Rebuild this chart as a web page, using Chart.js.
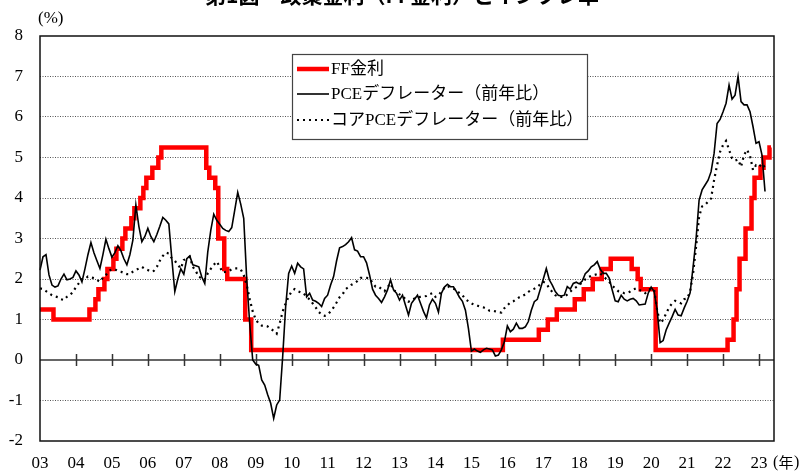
<!DOCTYPE html>
<html><head><meta charset="utf-8">
<script src="https://cdn.jsdelivr.net/npm/chart.js@4.4.1/dist/chart.umd.min.js"></script>
<style>html,body{margin:0;padding:0;background:#fff;overflow:hidden;}#wrap{width:807px;height:472px;position:relative;overflow:hidden;}canvas{display:block;}</style>
</head><body><div id="wrap"><canvas id="c" width="807" height="472"></canvas></div>
<script>
const titleText = '第1図　政策金利（FF金利）とインフレ率';
const unitLabel = '(%)';
const yearUnitParts = ['(', '年', ')'];
const seriesNames = ['FF金利', 'PCEデフレーター（前年比）', 'コアPCEデフレーター（前年比）'];
const yearLabels = ['03','04','05','06','07','08','09','10','11','12','13','14','15','16','17','18','19','20','21','22','23'];
const startYear = 2003;
const monthCount = 246; // Jan 2003 - Jun 2023
const months = [];
for (let i = 0; i < monthCount; i++) {
  months.push((startYear + Math.floor(i / 12)) + '-' + String(i % 12 + 1).padStart(2, '0'));
}

// FF rate (target, upper bound), monthly from Jan 2003
const ffRate = [
  1.25,1.25,1.25,1.25,1.25,1,1,1,1,1,1,1,
  1,1,1,1,1,1.25,1.25,1.5,1.75,1.75,2,2.25,
  2.25,2.5,2.75,2.75,3,3.25,3.25,3.5,3.75,3.75,4,4.25,
  4.5,4.5,4.75,4.75,5,5.25,5.25,5.25,5.25,5.25,5.25,5.25,
  5.25,5.25,5.25,5.25,5.25,5.25,5.25,5.25,4.75,4.5,4.5,4.25,
  3,3,2.25,2,2,2,2,2,2,1,1,0.25,
  0.25,0.25,0.25,0.25,0.25,0.25,0.25,0.25,0.25,0.25,0.25,0.25,
  0.25,0.25,0.25,0.25,0.25,0.25,0.25,0.25,0.25,0.25,0.25,0.25,
  0.25,0.25,0.25,0.25,0.25,0.25,0.25,0.25,0.25,0.25,0.25,0.25,
  0.25,0.25,0.25,0.25,0.25,0.25,0.25,0.25,0.25,0.25,0.25,0.25,
  0.25,0.25,0.25,0.25,0.25,0.25,0.25,0.25,0.25,0.25,0.25,0.25,
  0.25,0.25,0.25,0.25,0.25,0.25,0.25,0.25,0.25,0.25,0.25,0.25,
  0.25,0.25,0.25,0.25,0.25,0.25,0.25,0.25,0.25,0.25,0.25,0.5,
  0.5,0.5,0.5,0.5,0.5,0.5,0.5,0.5,0.5,0.5,0.5,0.75,
  0.75,0.75,1,1,1,1.25,1.25,1.25,1.25,1.25,1.25,1.5,
  1.5,1.5,1.75,1.75,1.75,2,2,2,2.25,2.25,2.25,2.5,
  2.5,2.5,2.5,2.5,2.5,2.5,2.25,2.25,2,1.75,1.75,1.75,
  1.75,1.75,0.25,0.25,0.25,0.25,0.25,0.25,0.25,0.25,0.25,0.25,
  0.25,0.25,0.25,0.25,0.25,0.25,0.25,0.25,0.25,0.25,0.25,0.25,
  0.25,0.25,0.5,0.5,1,1.75,2.5,2.5,3.25,3.25,4,4.5,
  4.5,4.75,5,5,5.25
];

// PCE deflator, YoY %, monthly from Jan 2003
const pceDeflator = [
  2.22,2.55,2.6,2.1,1.85,1.8,1.83,2.0,2.12,1.98,2.0,2.04,
  2.2,2.1,1.93,2.25,2.6,2.9,2.65,2.45,2.26,2.6,2.98,2.75,
  2.54,2.65,2.82,2.7,2.5,2.35,2.6,2.96,3.83,3.3,2.92,3.05,
  3.25,3.05,2.92,3.1,3.3,3.52,3.45,3.36,2.5,1.69,2.0,2.25,
  2.12,2.5,2.57,2.35,2.33,2.3,2.05,1.89,2.67,3.2,3.6,3.45,
  3.35,3.25,3.2,3.17,3.27,3.7,4.14,3.85,3.5,2.0,0.9,0.0,
  -0.1,-0.13,-0.49,-0.62,-0.86,-1.07,-1.44,-1.11,-0.99,0.08,1.32,2.14,
  2.32,2.14,2.39,2.3,2.25,1.56,1.65,1.48,1.45,1.4,1.32,1.52,
  1.6,1.85,2.06,2.45,2.77,2.8,2.85,2.92,3.02,2.72,2.69,2.55,
  2.55,2.4,2.1,1.75,1.6,1.52,1.42,1.56,1.73,1.98,1.73,1.65,
  1.48,1.6,1.35,1.11,1.4,1.5,1.6,1.4,1.2,1.04,1.36,1.5,
  1.4,1.18,1.65,1.8,1.87,1.81,1.81,1.69,1.55,1.45,1.23,0.78,
  0.22,0.27,0.22,0.19,0.25,0.29,0.27,0.25,0.1,0.12,0.25,0.45,
  0.84,0.7,0.76,0.91,0.78,0.78,0.82,0.95,1.23,1.44,1.5,1.75,
  2.0,2.26,1.98,1.85,1.69,1.6,1.58,1.6,1.81,1.75,1.89,1.92,
  1.88,1.95,2.13,2.2,2.3,2.35,2.43,2.24,2.14,2.14,2.02,1.73,
  1.46,1.44,1.6,1.5,1.46,1.5,1.52,1.46,1.36,1.37,1.38,1.65,
  1.8,1.69,1.23,0.43,0.48,0.74,0.91,1.07,1.25,1.11,1.09,1.28,
  1.45,1.66,2.3,3.0,3.95,4.2,4.32,4.44,4.65,5.1,5.84,5.94,
  6.13,6.34,6.79,6.44,6.54,7.0,6.38,6.3,6.3,6.13,5.76,5.35,
  5.39,5.06,4.16
];

// Core PCE deflator, YoY %, monthly from Jan 2003
const corePceDeflator = [
  1.77,1.75,1.7,1.65,1.6,1.57,1.55,1.5,1.48,1.56,1.6,1.68,
  1.8,1.9,2.0,2.0,2.06,2.04,2.02,1.98,1.93,2.03,2.1,2.2,
  2.24,2.24,2.2,2.18,2.15,2.12,2.12,2.18,2.22,2.26,2.3,2.25,
  2.22,2.18,2.2,2.3,2.45,2.57,2.65,2.63,2.51,2.45,2.35,2.26,
  2.47,2.5,2.55,2.3,2.2,2.05,2.02,1.98,2.14,2.25,2.35,2.43,
  2.3,2.16,2.18,2.2,2.24,2.26,2.26,2.24,2.1,1.85,1.5,1.2,
  1.0,0.9,0.85,0.85,0.83,0.77,0.72,0.65,0.9,1.2,1.4,1.56,
  1.7,1.75,1.7,1.67,1.65,1.55,1.5,1.4,1.3,1.19,1.12,1.09,
  1.12,1.2,1.3,1.42,1.55,1.62,1.75,1.8,1.86,1.9,1.95,2.03,
  2.03,2.03,2.02,1.9,1.81,1.81,1.75,1.7,1.8,1.89,1.72,1.69,
  1.62,1.58,1.5,1.44,1.48,1.52,1.55,1.56,1.57,1.58,1.62,1.65,
  1.56,1.6,1.69,1.78,1.83,1.78,1.76,1.73,1.65,1.6,1.5,1.45,
  1.4,1.36,1.34,1.32,1.3,1.27,1.22,1.22,1.2,1.18,1.17,1.28,
  1.35,1.42,1.45,1.5,1.55,1.58,1.62,1.68,1.73,1.76,1.81,1.87,
  1.93,1.89,1.77,1.68,1.6,1.56,1.56,1.56,1.62,1.69,1.75,1.8,
  1.85,1.92,1.99,2.05,2.08,2.1,2.12,2.14,2.07,2.0,1.93,1.83,
  1.77,1.7,1.68,1.65,1.66,1.69,1.74,1.77,1.73,1.7,1.65,1.72,
  1.77,1.73,1.23,0.91,0.99,1.15,1.3,1.4,1.46,1.43,1.4,1.5,
  1.52,1.69,2.14,2.8,3.54,3.79,3.83,3.91,3.99,4.44,4.81,5.14,
  5.31,5.41,5.19,4.98,4.92,4.95,4.77,5.06,5.19,5.04,4.69,4.81,
  4.77,4.85,4.75
];

const serif = '"Liberation Serif", "Times New Roman", "Noto Sans CJK JP", serif';

const decorPlugin = {
  id: 'decor',
  beforeDatasetsDraw(chart) {
    const {ctx, chartArea: a, scales: {x, y}} = chart;
    const y0 = y.getPixelForValue(0);
    ctx.save();
    ctx.strokeStyle = '#666';
    ctx.lineWidth = 2;
    ctx.beginPath(); ctx.moveTo(a.left, y0); ctx.lineTo(a.right, y0); ctx.stroke();
    ctx.lineWidth = 1.5;
    ctx.strokeStyle = '#333';
    for (let i = 12; i < monthCount; i += 12) {
      const px = Math.round(x.getPixelForValue(i)) + 0.5;
      ctx.beginPath(); ctx.moveTo(px, y0 - 6); ctx.lineTo(px, y0 + 6); ctx.stroke();
    }
    ctx.restore();
  },
  afterDatasetsDraw(chart) {
    const {ctx, chartArea: a} = chart;
    ctx.save();
    ctx.strokeStyle = '#111';
    ctx.lineWidth = 1.5;
    ctx.strokeRect(a.left, a.top, a.right - a.left, a.bottom - a.top);
    const lx = 292.5, ly = 54.5, lw = 295, lh = 85;
    ctx.fillStyle = '#fff';
    ctx.fillRect(lx, ly, lw, lh);
    ctx.strokeStyle = '#444';
    ctx.lineWidth = 1.2;
    ctx.strokeRect(lx, ly, lw, lh);
    const rows = [69, 94, 120];
    const ds = chart.data.datasets;
    [0, 1, 2].forEach((k, r) => {
      const d = ds[k];
      ctx.save();
      ctx.strokeStyle = d.borderColor;
      ctx.lineWidth = d.borderWidth;
      ctx.setLineDash(d.borderDash || []);
      ctx.beginPath(); ctx.moveTo(297, rows[r]); ctx.lineTo(329, rows[r]); ctx.stroke();
      ctx.restore();
      ctx.fillStyle = '#000';
      ctx.font = '17px ' + serif;
      ctx.textBaseline = 'middle';
      ctx.textAlign = 'left';
      ctx.fillText(d.label, 331, rows[r] + 1);
    });
    ctx.restore();
  },
  afterDraw(chart) {
    const {ctx} = chart;
    ctx.save();
    ctx.fillStyle = '#000';
    ctx.font = '17px ' + serif;
    ctx.textBaseline = 'middle';
    ctx.textAlign = 'left';
    ctx.fillText(unitLabel, 38, 19);
    ctx.font = '16px "Liberation Serif", serif';
    ctx.fillText(yearUnitParts[0], 773, 463);
    ctx.font = '15px "Noto Sans CJK JP", sans-serif';
    ctx.fillText(yearUnitParts[1], 778.5, 462);
    ctx.font = '16px "Liberation Serif", serif';
    ctx.fillText(yearUnitParts[2], 794, 463);
    ctx.font = 'bold 21px "Noto Sans CJK JP", sans-serif';
    ctx.textAlign = 'center';
    ctx.textBaseline = 'alphabetic';
    ctx.fillText(titleText, 402, 2.5);
    ctx.restore();
  }
};

new Chart(document.getElementById('c'), {
  type: 'line',
  data: {
    labels: months,
    datasets: [
      { label: seriesNames[0], data: ffRate, borderColor: '#ff0000', borderWidth: 4.5, stepped: 'middle',
        pointRadius: 0, fill: false, order: 3, borderJoinStyle: 'miter', borderCapStyle: 'butt' },
      { label: seriesNames[1], data: pceDeflator, borderColor: '#000000', borderWidth: 1.6,
        pointRadius: 0, fill: false, order: 1, tension: 0 },
      { label: seriesNames[2], data: corePceDeflator, borderColor: '#000000', borderWidth: 2.2, borderDash: [2, 4],
        pointRadius: 0, fill: false, order: 2, tension: 0, borderCapStyle: 'butt' }
    ]
  },
  options: {
    responsive: false,
    animation: false,
    devicePixelRatio: 1,
    layout: { padding: { top: 36, right: 33, left: 0, bottom: 0 } },
    plugins: { legend: { display: false }, tooltip: { enabled: false }, title: { display: false } },
    scales: {
      x: {
        type: 'category', offset: false,
        grid: { display: false, drawTicks: false },
        border: { display: false },
        ticks: {
          autoSkip: false, maxRotation: 0, minRotation: 0, padding: 12, color: '#000',
          font: { family: serif, size: 17 },
          callback: (v, i) => (i % 12 === 0 ? yearLabels[i / 12] : '')
        },
        afterFit: s => { s.height = 31; }
      },
      y: {
        min: -2, max: 8,
        ticks: { stepSize: 1, padding: 17, color: '#000', font: { family: serif, size: 17 } },
        grid: {
          drawTicks: false, lineWidth: 1,
          color: c => (c.tick && (c.tick.value === 0 || c.tick.value === 8 || c.tick.value === -2)) ? 'rgba(0,0,0,0)' : '#555'
        },
        border: { display: false, dash: [1, 1.5] },
        afterFit: s => { s.width = 40; }
      }
    }
  },
  plugins: [decorPlugin]
});
</script>
</body></html>
